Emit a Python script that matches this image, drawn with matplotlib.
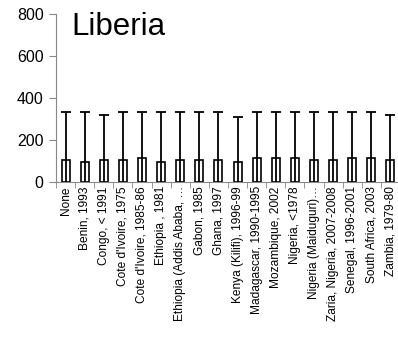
import numpy as np
import matplotlib.pyplot as plt

plt.rcParams['font.family'] = ['Liberation Sans', 'DejaVu Sans']

labels = ["None", "Benin, 1993", "Congo, < 1991", "Cote d'Ivoire, 1975",
          "Cote d'Ivoire, 1985-86", "Ethiopia , 1981",
          "Ethiopia (Addis Ababa, \u2026", "Gabon, 1985", "Ghana, 1997",
          "Kenya (Kilifi), 1996-99", "Madagascar, 1990-1995",
          "Mozambique, 2002", "Nigeria, <1978", "Nigeria (Maiduguri)\u2026",
          "Zaria, Nigeria, 2007-2008", "Senegal, 1996-2001",
          "South Africa, 2003", "Zambia, 1979-80"]
means = [105, 97, 105, 105, 114, 97, 105, 105, 105, 97, 113, 113, 113,
         105, 105, 113, 113, 105]
upper = [335, 335, 317, 335, 335, 335, 335, 335, 335, 310, 335, 335, 335,
         335, 335, 335, 335, 317]

sd = np.array(upper) - np.array(means)
x = np.arange(len(labels))

fig = plt.figure(figsize=(3.98, 3.43), dpi=100)
ax = fig.add_axes([56 / 398, 1 - 182 / 343, 344 / 398, 168 / 343])

ax.bar(x, means, width=0.42, color='white', edgecolor='black', linewidth=1.2,
       zorder=2)
ax.errorbar(x, means, yerr=sd, fmt='none', ecolor='black', elinewidth=1.3,
            capsize=3.6, capthick=1.3, zorder=3)

ax.set_xlim(-0.5, len(labels) - 0.5)
ax.set_ylim(0, 800)
ax.set_yticks([0, 200, 400, 600, 800])
ax.tick_params(axis='y', labelsize=11.5, length=5, color='#888888', pad=4)

ax.set_xticks(x)
ax.set_xticklabels(labels, rotation=90, fontsize=8.6)
ax.tick_params(axis='x', which='major', length=0, pad=3)
ax.set_xticks(np.arange(len(labels) + 1) - 0.5, minor=True)
ax.tick_params(axis='x', which='minor', length=4, color='#888888')

for side in ['top', 'right']:
    ax.spines[side].set_visible(False)
for side in ['left', 'bottom']:
    ax.spines[side].set_color('#888888')

ax.text(0.045, 1.01, "Liberia", transform=ax.transAxes, fontsize=22.5,
        va='top', ha='left')

fig.savefig("out.png", dpi=100)
